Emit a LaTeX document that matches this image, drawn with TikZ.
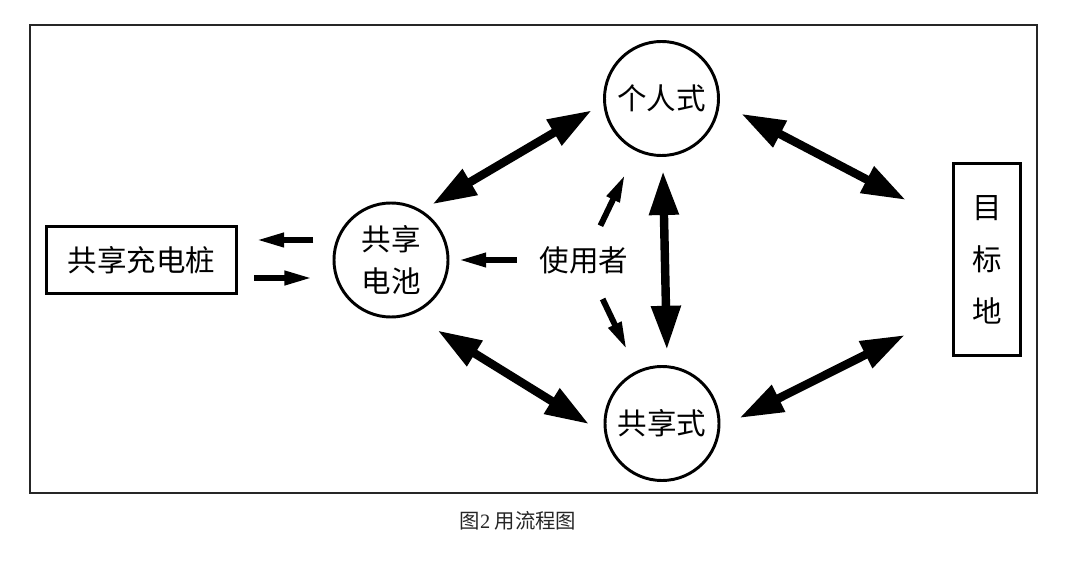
\documentclass[tikz,border=0pt]{standalone}
\usepackage{fontspec}
\setmainfont{Noto Sans CJK SC}
\newfontfamily\numfont{Liberation Serif}
\usepackage{tikz}
\usetikzlibrary{calc}
\usetikzlibrary{arrows.meta}
\tikzstyle{box} = [draw, line width=2.1pt, inner sep=0pt]
\tikzstyle{ring} = [draw, circle, line width=2.1pt, minimum size=2.85cm, inner sep=0pt,
	font=\fontsize{21}{30.5}\selectfont, align=center]
\tikzstyle{bigarrow} = [line width=6pt,
	{Triangle[length=1.1cm,width=0.7cm]}-{Triangle[length=1.1cm,width=0.7cm]}]
\tikzstyle{smallarrow} = [line width=4.2pt, -{Triangle[length=0.7cm,width=0.33cm]}]

\begin{document}
\begin{tikzpicture}[x=0.025cm,y=-0.025cm]
	\useasboundingbox (0,0) rectangle (1080,564);
	\draw[line width=0.8pt, color=black!85] (30,25) rectangle (1037,493);   % frame

	% nodes
	\node[box, minimum width=4.75cm, minimum height=1.68cm, font=\fontsize{21}{30}\selectfont] (pile) at (141.5,260) {共享充电桩};
	\node[ring] (bat) at (391,260) {共享\\电池};
	\node[ring] (per) at (661.5,98.5) {个人式};
	\node[ring] (share) at (662,423.5) {共享式};
	\node[font=\fontsize{21}{30}\selectfont] (user) at (584,260) {使用者};
	\node[box, minimum width=1.68cm, minimum height=4.8cm, align=center, font=\fontsize{21}{37}\selectfont] (goal) at (987,259.5) {目\\标\\地};

	% two-way arrows
	\draw[bigarrow, shorten <=0.3cm, shorten >=0.33cm] (bat.58) -- (per.185);
	\draw[bigarrow, shorten <=0.75cm, shorten >=0.45cm] (bat.-69) -- (share.190);
	\draw[bigarrow, shorten <=0.6cm] (per.-4.6) -- ($(goal.west)+(-46,-59.5)$);
	\draw[bigarrow, shorten <=0.53cm] (share.-4.8) -- ($(goal.west)+(-47,75.5)$);
	\draw[bigarrow, shorten <=0.35cm, shorten >=0.38cm] ([xshift=0.03cm]per.south) -- ([xshift=0.13cm]share.north);

	% one-way arrows
	\draw[smallarrow, shorten <=0.95cm, shorten >=2.1cm] (user.center) -- (per.center);
	\draw[smallarrow, shorten <=1.08cm, shorten >=2.04cm] (user.center) -- (share.center);
	\draw[smallarrow, shorten <=1.68cm, shorten >=1.68cm] (user.center) -- (bat.center);
	\draw[smallarrow, shorten <=0.48cm, shorten >=0.45cm] ([yshift=0.5cm]bat.west) -- ([yshift=0.5cm]pile.east);
	\draw[smallarrow, shorten <=0.4cm, shorten >=0.5cm] ([yshift=-0.45cm]pile.east) -- ([yshift=-0.45cm]bat.west);

	\node[font=\fontsize{14.5}{17}\selectfont, text=black!85] (cap) at (518,521) {图{\numfont 2} 用流程图};
\end{tikzpicture}
\end{document}
